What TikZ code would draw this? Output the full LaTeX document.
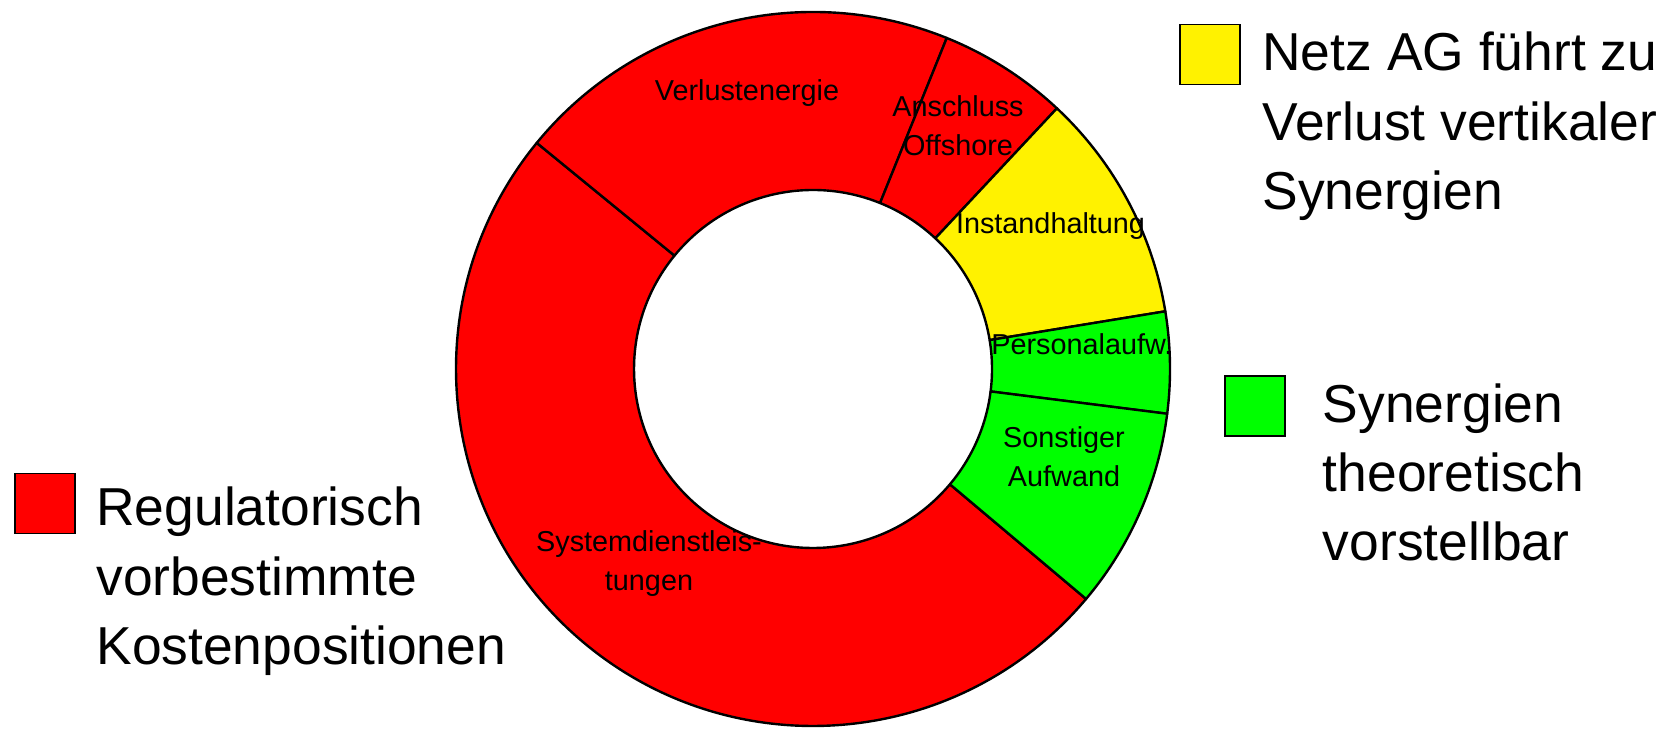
\documentclass[tikz,border=0pt]{standalone}
\usepackage{fontspec}
\setmainfont{Liberation Sans}
\usepackage{tikz}

\begin{document}
\begin{tikzpicture}[x=0.5pt,y=0.5pt,
    seglabel/.style={font=\fontsize{14.4}{19.5}\selectfont,inner sep=0pt,align=center},
    legtext/.style={font=\fontsize{26.7}{34.6}\selectfont,inner sep=0pt,align=left,anchor=north west},
    legbox/.style={draw=black,line width=0.8pt,minimum size=30pt,inner sep=0pt}]
    \useasboundingbox (0,0) rectangle (1668,728);
    % draw the ring pieces, counter clockwise from start angle to end angle
    \begin{scope}[shift={(813,359)}]
        \foreach \a/\b/\c in {140.7/319.9/red,68.0/140.7/red,46.9/68.0/red,9.3/46.9/yellow,-7.2/9.3/green,-40.1/-7.2/green}
        {
            \filldraw[fill=\c,draw=black,line width=1.2pt,line join=round] (\a:178.5pt) arc (\a:\b:178.5pt) -- (\b:89.5pt) arc (\b:\a:89.5pt) -- cycle;
        }
    \end{scope}
    % labels of the pieces
    \node[seglabel,anchor=base] (verlust) at (747,627.3) {Verlustenergie};
    \node[seglabel,anchor=north] (anschluss) at (958,632.6) {Anschluss\\Offshore};
    \node[seglabel,anchor=base] (instand) at (1050.5,494) {Instandhaltung};
    \node[seglabel,anchor=base west] (personal) at (991,373) {Personalaufw.};
    \node[seglabel,anchor=north] (sonstiger) at (1064,302) {Sonstiger\\Aufwand};
    \node[seglabel,anchor=north] (system) at (649,198) {Systemdienstleis-\\tungen};
    % legend boxes and their texts
    \node[legbox,fill=red] (boxred) at (45.2,224.6) {};
    \node[legtext] (legred) at (96,241.2) {Regulatorisch\\vorbestimmte\\Kostenpositionen};
    \node[legbox,fill=yellow] (boxyellow) at (1209.7,673.5) {};
    \node[legtext] (legyellow) at (1262,696.2) {Netz AG führt zu\\Verlust vertikaler\\Synergien};
    \node[legbox,fill=green] (boxgreen) at (1255,322.1) {};
    \node[legtext] (leggreen) at (1322.5,344.8) {Synergien\\theoretisch\\vorstellbar};
\end{tikzpicture}
\end{document}
